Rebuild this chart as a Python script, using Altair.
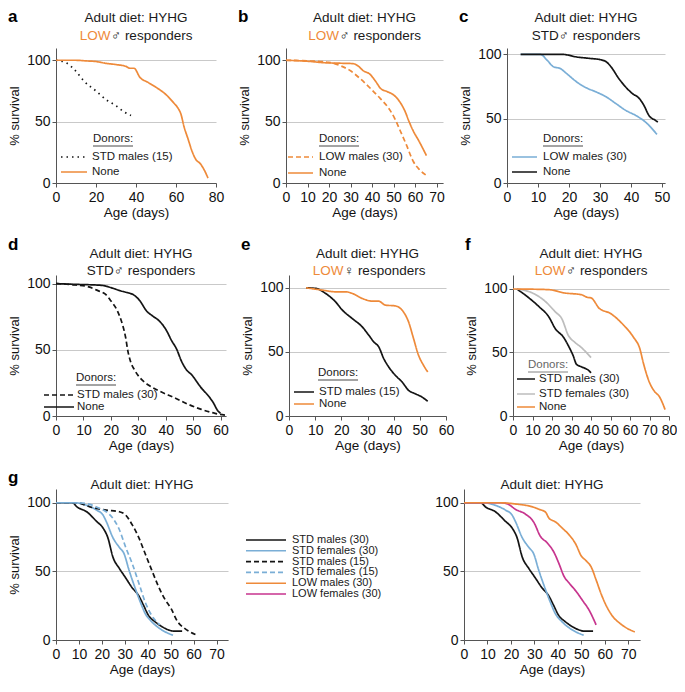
import altair as alt
import pandas as pd

FONT = "Liberation Sans"
ORANGE = "#EE8A3A"
BLUE = "#7AAED6"
GRAY = "#BDBDBD"
MAGENTA = "#C7358E"
BLACK = "#141414"
TXT = "#1A1A1A"

SOLID = [1, 0]
DASH = [5, 3]
DOT = [1.5, 4]

# ---------------- data ----------------
# panel a
a_none_day = [0, 5, 10, 15, 20, 25, 30, 35, 37, 39, 42, 46, 50, 55, 59, 61, 62.5, 64, 66, 68, 70, 72, 74, 76]
a_none_surv = [100, 100, 100, 99.5, 99, 97.5, 96.5, 95, 93.5, 93.5, 86, 82, 78, 72, 65, 61, 56, 46, 36, 26, 19, 16, 11, 4]
a_std15_day = [0, 5, 10, 14, 20, 25, 30, 34, 37.5]
a_std15_surv = [100, 98, 91, 83, 75, 68, 63, 58, 55]
# panel b
b_none_day = [0, 10, 18, 25, 31, 33, 36, 39, 42, 44, 47, 50, 53, 55.5, 57, 59, 62, 65.3]
b_none_surv = [100, 99.2, 98, 97.6, 97.3, 96, 91.4, 88.7, 82, 77, 74.5, 71.8, 65.9, 57.8, 51, 43, 33.6, 22.3]
b_low30_day = [0, 10, 20, 25.5, 30, 34.7, 39.3, 44, 48.5, 51, 53, 56, 59.2, 62, 65]
b_low30_surv = [100, 99.5, 98.3, 95.4, 91.4, 84.7, 77, 68.5, 59, 51, 43, 31, 17.5, 11, 6.5]
# panel c
c_none_day = [4.4, 12, 18, 22.5, 26.7, 30, 32, 34, 35.7, 38.3, 40.5, 42.6, 44.2, 45.8, 47.9, 48.7]
c_none_surv = [100, 100, 100, 98, 96.9, 96, 94.3, 89, 82.6, 74.7, 69.5, 66, 60.4, 52.6, 48.7, 47.4]
c_low30_day = [4.4, 10.8, 12.9, 15, 17.2, 19.3, 22.5, 25.6, 28.8, 32, 35.2, 38.3, 41.5, 44.7, 48.4]
c_low30_surv = [100, 100, 95.6, 90.4, 89, 85, 78.6, 74, 70.8, 67, 61.7, 56.5, 52.6, 47.4, 37.8]
# panel d
d_none_day = [0, 6, 16.6, 20, 23.6, 26, 28.3, 30.6, 33, 35.2, 37.6, 40, 42.2, 44, 45.7, 47.4, 49.8, 51.5, 53.3, 55, 57.3, 59, 60]
d_none_surv = [100, 99.5, 98.7, 97, 94.5, 93.2, 91.5, 87, 79.4, 75.6, 71.9, 65.6, 56.8, 50.5, 41.7, 35.4, 30.4, 25.4, 20.4, 16.6, 10.3, 4, 2]
d_std30_day = [0, 7, 12, 15.5, 18, 20, 22.4, 24.2, 25.4, 26.2, 27.1, 28.8, 31, 34, 38, 43, 48, 53, 58, 62]
d_std30_surv = [100, 99, 97.5, 94.5, 92, 87, 79.4, 69.3, 59.3, 49.2, 41.7, 34.2, 28, 23, 18.5, 14, 9, 5, 2, 0.5]
# panel e
e_none_day = [6.5, 12.8, 17.8, 21.6, 24.2, 28, 31.8, 34.3, 36.8, 40.6, 43.2, 45.7, 47.6, 49.5, 51.4, 53]
e_none_surv = [100, 98.2, 96.9, 96.9, 95.6, 91.7, 89.6, 89.6, 86.5, 85.9, 82.6, 73.4, 60.4, 47.4, 39.6, 34.4]
e_std15_day = [6.5, 10.3, 14, 17.8, 20.4, 24.2, 28, 30.5, 32.4, 34.3, 36.2, 38.1, 40.6, 43.2, 45.7, 48.2, 50.8, 53]
e_std15_surv = [100, 99.5, 95.6, 89, 82.6, 76, 69.5, 63, 57.8, 53.9, 44.8, 38.3, 31.8, 26.6, 20, 17.4, 14.8, 11.5]
# panel f
f_none_day = [0, 18, 26.7, 35, 38.4, 40, 44.2, 50, 56.8, 61.8, 65.1, 66.8, 70.1, 72.6, 75.1, 78]
f_none_surv = [100, 99.5, 96.8, 95.5, 93.3, 93, 84.8, 80.7, 71.4, 62, 52.7, 42, 26, 19.3, 15.2, 5]
f_std30m_day = [2, 8.3, 13.4, 18.4, 21.7, 25.9, 28.4, 30.9, 32.6, 35, 39.2, 40]
f_std30m_surv = [100, 92.8, 86, 78, 68.7, 62, 55.3, 47.3, 40.6, 38.8, 35.3, 34]
f_std30f_day = [2, 10, 16.7, 21.7, 25, 28.4, 31.7, 35, 38.4, 40]
f_std30f_surv = [100, 96.8, 90, 82, 76.7, 63.4, 58, 54, 48.7, 46]
# panel g
g_std30m_day = [0, 7.1, 9.2, 13.4, 17.7, 20.5, 22.6, 24.8, 27.6, 30.4, 33.2, 36.1, 38.2, 40.3, 43.1, 46, 48.8, 51.6, 55]
g_std30m_surv = [100, 100, 96.9, 93.4, 86.4, 81.6, 74.6, 60.5, 52.2, 45.2, 38.1, 32.2, 25.2, 18, 13.4, 9.9, 7.5, 6.4, 6.4]
g_std30f_day = [0, 7.8, 13.4, 17.7, 20.5, 21.9, 24.8, 27.6, 29.7, 31.8, 34.7, 36.8, 38.9, 41.7, 46, 50.2, 51]
g_std30f_surv = [100, 100, 98.1, 94.6, 91, 86.4, 74.6, 67.5, 62.8, 51.1, 36.9, 27.5, 19.3, 13.4, 7.5, 4, 3.5]
g_std15m_day = [0, 9.2, 14.9, 21.9, 27.6, 30.4, 33.2, 36.1, 38.9, 41.7, 44.6, 47.4, 50.2, 53, 55.9, 60.8]
g_std15m_surv = [100, 100, 96.9, 94.6, 93.4, 91, 84, 74.6, 62.8, 51.1, 39.3, 29.9, 22.8, 13.4, 8.7, 4]
g_std15f_day = [0, 7.8, 13.4, 19.1, 21.9, 24.8, 27.6, 30.4, 33.2, 36.1, 38.9, 41.7, 43.8, 45.3]
g_std15f_surv = [100, 100, 99.3, 95.8, 93.4, 88.7, 80.5, 67.5, 55.8, 41.6, 27.5, 18, 13.4, 11]
g_low30m_day = [0, 14.7, 23.3, 27.6, 31.9, 34.8, 36.2, 39.1, 42, 44.8, 47.7, 49.9, 52, 54.2, 56.3, 58.5, 60.6, 63.5, 66.4, 69.3, 72.8]
g_low30m_surv = [100, 100, 98.8, 97.7, 95.3, 93, 88.8, 85.9, 81.3, 76.6, 69.6, 61.4, 57.8, 53.2, 43.8, 33.3, 25.1, 16.9, 12.2, 8.7, 5.9]
g_low30f_day = [0, 16.1, 19, 21.8, 26.1, 29.7, 32.6, 35.5, 38.4, 40.5, 42.7, 44.8, 47.7, 50.6, 53.4, 56.3]
g_low30f_surv = [100, 100, 98.8, 95.3, 91.8, 85.9, 75.4, 70.7, 63.7, 55.5, 46.1, 41.5, 35.6, 28.6, 21.5, 11]

G_LABELS = ["STD males (30)", "STD females (30)", "STD males (15)",
            "STD females (15)", "LOW males (30)", "LOW females (30)"]

ONE = pd.DataFrame({"k": [0]})


def text(s, x, y, size=11.5, color=TXT, align="left", weight="normal", opacity=1):
    return alt.Chart(ONE).mark_text(
        text=s, align=align, baseline="middle", font=FONT, fontSize=size,
        fontWeight=weight, color=color, opacity=opacity
    ).encode(x=alt.value(x), y=alt.value(y))


def seg(x1, x2, y, color, dash=SOLID, width=1.7):
    return alt.Chart(ONE).mark_rule(color=color, strokeDash=dash, strokeWidth=width).encode(
        x=alt.value(x1), x2=alt.value(x2), y=alt.value(y))


def curves(series, xmax, xstep, xtmax, ytop=110, ytitle=True):
    rows = []
    for name, days, surv, color, dash in series:
        for d, s in zip(days, surv):
            rows.append({"series": name, "day": d, "surv": s})
    df = pd.DataFrame(rows)
    names = [s[0] for s in series]
    yax = dict(values=[0, 50, 100], grid=True, tickSize=4, labelPadding=2,
               titlePadding=5, titleFontSize=13, titleFontWeight="normal")
    if ytitle:
        yax["title"] = "% survival"
    else:
        yax["title"] = None
    return alt.Chart(df).mark_line(strokeWidth=1.7, interpolate="monotone").encode(
        x=alt.X("day:Q", scale=alt.Scale(domain=[0, xmax], nice=False, zero=False),
                axis=alt.Axis(values=list(range(0, xtmax + 1, xstep)), title="Age (days)",
                              grid=False, tickSize=4, labelPadding=3, titlePadding=1,
                              titleFontWeight="normal", titleFontSize=13.5,
                              labelFlush=False, labelOverlap=False)),
        y=alt.Y("surv:Q", scale=alt.Scale(domain=[0, ytop], nice=False), axis=alt.Axis(**yax)),
        color=alt.Color("series:N", scale=alt.Scale(domain=names, range=[s[3] for s in series]),
                        legend=None),
        strokeDash=alt.StrokeDash("series:N", scale=alt.Scale(domain=names, range=[s[4] for s in series]),
                                  legend=None),
    )


def titles(w, t1, t2, tl, letter, parts):
    lay = [text(letter, -48, tl, size=17, color="#000", weight="bold"),
           text("Adult diet: HYHG", w / 2, t1, size=13.5, align="center")]
    if len(parts) == 1:
        lay.append(text(parts[0], w / 2, t2, size=13.5, align="center"))
    else:
        lay.append(text(parts[0], w / 2 + parts[2], t2, size=13.5, color=ORANGE, align="right"))
        lay.append(text(parts[1], w / 2 + parts[2] + 0.5, t2, size=13.5, align="left"))
    return lay


def legend(h, x_head, y_head, x0, x1, xt, rows, head_color=TXT):
    lay = [text("Donors:", x_head, h + y_head, color=head_color),
           seg(x_head, x_head + 40, h + y_head + 7, head_color, width=0.8)]
    for label, color, dash, y in rows:
        lay.append(seg(x0, x1, h + y, color, dash))
        lay.append(text(label, xt, h + y))
    return lay


# ---------------- row 1 ----------------
H1 = 135
T1A, T1B, T1L = -30, -12, -31
wa = 160
A = alt.layer(
    curves([("STD males (15)", a_std15_day, a_std15_surv, BLACK, DOT),
            ("None", a_none_day, a_none_surv, ORANGE, SOLID)], 80, 20, 80),
    *titles(wa, T1A, T1B, T1L, "a", ["LOW", "♂ responders", -25.5]),
    *legend(H1, 37, -44, 5, 31, 36, [("STD males (15)", BLACK, DOT, -26), ("None", ORANGE, SOLID, -11)]),
).properties(width=wa, height=H1)

wb = 157
B = alt.layer(
    curves([("LOW males (30)", b_low30_day, b_low30_surv, ORANGE, DASH),
            ("None", b_none_day, b_none_surv, ORANGE, SOLID)], 73, 10, 70),
    *titles(wb, T1A, T1B, T1L, "b", ["LOW", "♂ responders", -25.5]),
    *legend(H1, 33, -44, 2, 27, 33, [("LOW males (30)", ORANGE, DASH, -26), ("None", ORANGE, SOLID, -10)]),
).properties(width=wb, height=H1)

wc = 158
C = alt.layer(
    curves([("LOW males (30)", c_low30_day, c_low30_surv, BLUE, SOLID),
            ("None", c_none_day, c_none_surv, BLACK, SOLID)], 51, 10, 50, ytop=105),
    *titles(wc, T1A, T1B, T1L, "c", ["STD♂ responders"]),
    *legend(H1, 36, -44, 5, 30, 36, [("LOW males (30)", BLUE, SOLID, -26), ("None", BLACK, SOLID, -11)]),
).properties(width=wc, height=H1)

# ---------------- row 2 ----------------
H2 = 141
T2A, T2B, T2L = -21, -4, -30
wd = 170
D = alt.layer(
    curves([("STD males (30)", d_std30_day, d_std30_surv, BLACK, DASH),
            ("None", d_none_day, d_none_surv, BLACK, SOLID)], 62, 10, 60, ytop=106.5),
    *titles(wd, T2A, T2B, T2L, "d", ["STD♂ responders"]),
    *legend(H2, 20, -38, -12, 18, 21, [("STD males (30)", BLACK, DASH, -21), ("None", BLACK, SOLID, -9)]),
).properties(width=wd, height=H2)

we = 157
E = alt.layer(
    curves([("STD males (15)", e_std15_day, e_std15_surv, BLACK, SOLID),
            ("None", e_none_day, e_none_surv, ORANGE, SOLID)], 60, 10, 60),
    *titles(we, T2A, T2B, T2L, "e", ["LOW", " ♀ responders", -24]),
    *legend(H2, 29, -43, 5, 25, 30, [("STD males (15)", BLACK, SOLID, -24), ("None", ORANGE, SOLID, -12)]),
).properties(width=we, height=H2)

wf = 156
F = alt.layer(
    curves([("STD males (30)", f_std30m_day, f_std30m_surv, BLACK, SOLID),
            ("STD females (30)", f_std30f_day, f_std30f_surv, GRAY, SOLID),
            ("None", f_none_day, f_none_surv, ORANGE, SOLID)], 80, 10, 80, ytop=111),
    *titles(wf, T2A, T2B, T2L, "f", ["LOW", "♂ responders", -25.5]),
    *legend(H2, 15, -51, 4, 22, 26, [("STD males (30)", BLACK, SOLID, -37),
                                     ("STD females (30)", GRAY, SOLID, -22),
                                     ("None", ORANGE, SOLID, -9)], head_color="#666"),
).properties(width=wf, height=H2)

# ---------------- row 3 ----------------
wg, hg = 172, 151
g_rows = [(G_LABELS[0], BLACK, SOLID), (G_LABELS[1], BLUE, SOLID), (G_LABELS[2], BLACK, DASH),
          (G_LABELS[3], BLUE, DASH), (G_LABELS[4], ORANGE, SOLID), (G_LABELS[5], MAGENTA, SOLID)]
g_leg = []
for i, (lab, col, dsh) in enumerate(g_rows):
    yy = hg - 100 + i * 10.8
    g_leg.append(seg(190, 230, yy, col, dsh, 1.6))
    g_leg.append(text(lab, 236, yy, size=11))

G1 = alt.layer(
    curves([(G_LABELS[0], g_std30m_day, g_std30m_surv, BLACK, SOLID),
            (G_LABELS[1], g_std30f_day, g_std30f_surv, BLUE, SOLID),
            (G_LABELS[2], g_std15m_day, g_std15m_surv, BLACK, DASH),
            (G_LABELS[3], g_std15f_day, g_std15f_surv, BLUE, DASH)], 75, 10, 70),
    text("g", -48, -11, size=17, color="#000", weight="bold"),
    text("Adult diet: HYHG", wg / 2, -4, size=13.5, align="center"),
    *g_leg,
).properties(width=wg, height=hg)

wg2 = 176
G2 = alt.layer(
    curves([(G_LABELS[0], g_std30m_day, g_std30m_surv, BLACK, SOLID),
            (G_LABELS[1], g_std30f_day, g_std30f_surv, BLUE, SOLID),
            (G_LABELS[5], g_low30f_day, g_low30f_surv, MAGENTA, SOLID),
            (G_LABELS[4], g_low30m_day, g_low30m_surv, ORANGE, SOLID)], 75, 10, 70, ytitle=False),
    text("Adult diet: HYHG", wg2 / 2, -4, size=13.5, align="center"),
).properties(width=wg2, height=hg)

RES = dict(color="independent", strokeDash="independent")
row1 = alt.hconcat(A, B, C, spacing=14).resolve_scale(**RES)
row2 = alt.hconcat(D, E, F, spacing=11).resolve_scale(**RES)
row3 = alt.hconcat(G1, G2, spacing=52).resolve_scale(**RES)

chart = alt.vconcat(row1, row2, row3, spacing=17).resolve_scale(**RES).properties(
    padding={"top": 0, "left": 0, "right": 0, "bottom": 2}
).configure_view(stroke=None).configure_axis(
    labelFont=FONT, titleFont=FONT, labelFontSize=14, titleFontSize=14,
    titleFontWeight="normal", labelColor="#111", titleColor="#111",
    domainColor="#555", tickColor="#555", domainWidth=1, tickWidth=1,
    gridColor="#C9C9C9", gridWidth=1,
)

chart.save("out.html", embed_options={"renderer": "svg", "actions": False})
